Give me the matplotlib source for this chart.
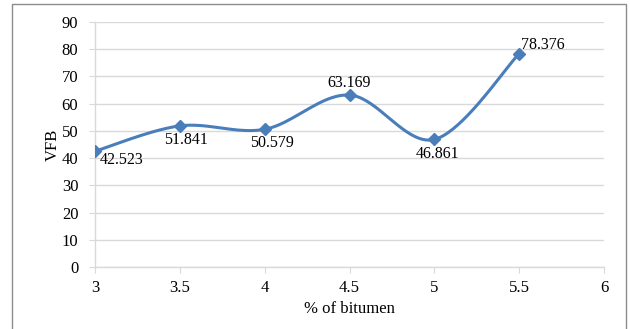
import numpy as np
import matplotlib
import matplotlib.pyplot as plt
from matplotlib.patches import Rectangle

matplotlib.use('Agg')

bitumen = [3.0, 3.5, 4.0, 4.5, 5.0, 5.5]
vfb = [42.523, 51.841, 50.579, 63.169, 46.861, 78.376]
# label offsets in points (dx, dy) for each data label
label_pos = [(19.5, -6.5), (4.7, -10), (5.4, -10), (0, 9), (2.5, -10.5), (17, 6.5)]

x_ticks = [3, 3.5, 4, 4.5, 5, 5.5, 6]
y_ticks = list(range(0, 91, 10))

LINE = '#4A7EBB'
GRID = '#D9D9D9'


def smooth_curve(xs, ys, n=40):
    # Catmull-Rom style Bezier segments, similar to spreadsheet "smoothed line"
    xs = np.asarray(xs, float)
    ys = np.asarray(ys, float)
    px = np.concatenate([[xs[0]], xs, [xs[-1]]])
    py = np.concatenate([[ys[0]], ys, [ys[-1]]])
    out_x, out_y = [], []
    t = np.linspace(0, 1, n)
    for i in range(1, len(px) - 2):
        p0 = np.array([px[i], py[i]])
        p3 = np.array([px[i + 1], py[i + 1]])
        c1 = p0 + (np.array([px[i + 1], py[i + 1]]) - np.array([px[i - 1], py[i - 1]])) / 6
        c2 = p3 - (np.array([px[i + 2], py[i + 2]]) - np.array([px[i], py[i]])) / 6
        b = ((1 - t) ** 3)[:, None] * p0 + (3 * (1 - t) ** 2 * t)[:, None] * c1 \
            + (3 * (1 - t) * t ** 2)[:, None] * c2 + (t ** 3)[:, None] * p3
        out_x.extend(b[:, 0])
        out_y.extend(b[:, 1])
    return out_x, out_y


plt.rcParams['font.family'] = 'Liberation Serif'
plt.rcParams['font.size'] = 12

fig = plt.figure(figsize=(6.3, 3.29), dpi=100)
fig.patches.append(Rectangle((12 / 630, -0.01), 614 / 630, 1 - 4 / 329 + 0.01,
                             transform=fig.transFigure, fill=False,
                             edgecolor='#8C8C8C', linewidth=1.0))

ax = fig.add_axes([95 / 630, 1 - 267 / 329, 509 / 630, 245 / 329])

sx, sy = smooth_curve(bitumen, vfb)
ax.plot(sx, sy, color=LINE, linewidth=2.2, solid_capstyle='round', zorder=3)
ax.plot(bitumen, vfb, linestyle='none', marker='D', markersize=6.5,
        color=LINE, markeredgecolor=LINE, zorder=4)

for xv, yv, (dx, dy) in zip(bitumen, vfb, label_pos):
    ax.annotate(f"{yv:.3f}", (xv, yv), xytext=(dx, dy), textcoords='offset points',
                ha='center', va='center', fontsize=11.5, color='black')

ax.set_xlim(3, 6)
ax.set_ylim(0, 90)
ax.set_xticks(x_ticks)
ax.set_xticklabels([f"{v:g}" for v in x_ticks])
ax.set_yticks(y_ticks)
ax.yaxis.grid(True, color=GRID, linewidth=1.0)
ax.set_axisbelow(True)

for side in ['top', 'right']:
    ax.spines[side].set_visible(False)
ax.spines['left'].set_color(GRID)
ax.spines['bottom'].set_color(GRID)
ax.spines['left'].set_linewidth(1.0)
ax.spines['bottom'].set_linewidth(1.0)
ax.tick_params(axis='both', colors=GRID, labelcolor='black', length=4, labelsize=12)
ax.tick_params(axis='x', pad=5)
ax.tick_params(axis='y', pad=8)

ax.set_xlabel('% of bitumen', fontsize=12, labelpad=4)
ax.set_ylabel('VFB', fontsize=12, labelpad=1)

fig.savefig('out.png', dpi=100)
